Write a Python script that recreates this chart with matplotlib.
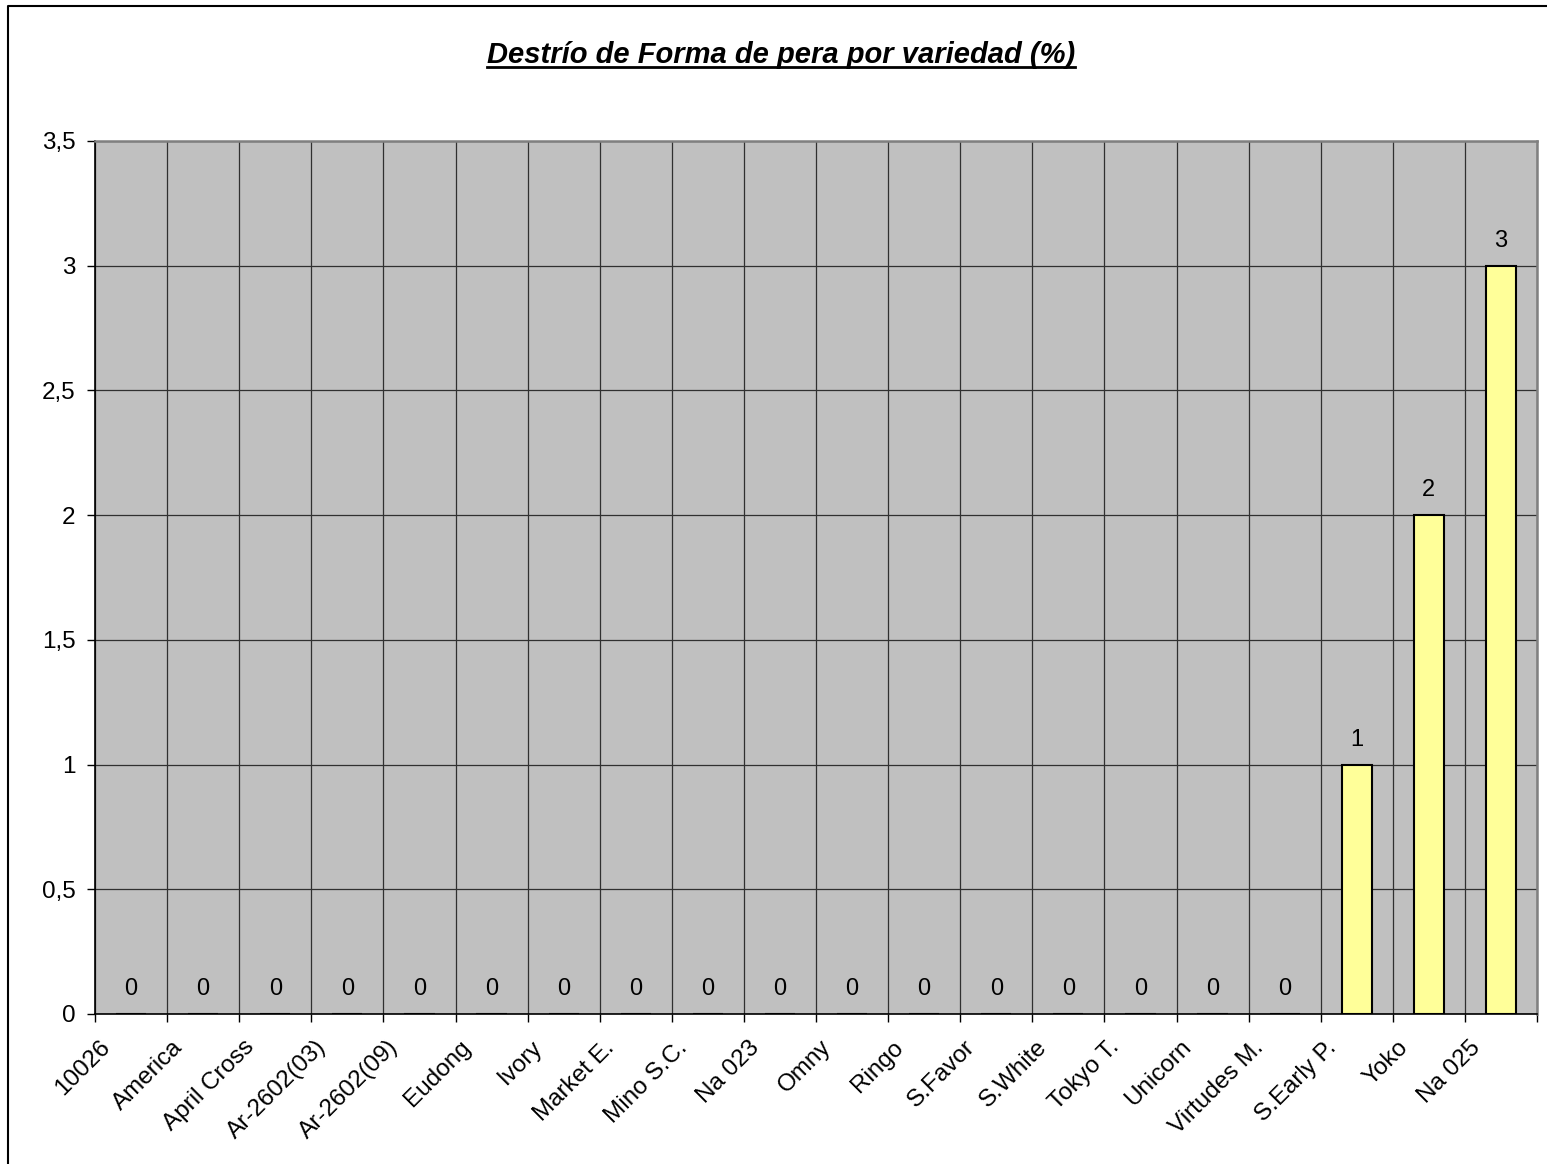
import matplotlib
matplotlib.use("Agg")
import matplotlib.pyplot as plt
import matplotlib.transforms as mtransforms
from matplotlib.lines import Line2D
import numpy as np

# data
variedades = ["10026", "America", "April Cross", "Ar-2602(03)", "Ar-2602(09)",
              "Eudong", "Ivory", "Market E.", "Mino S.C.", "Na 023", "Omny",
              "Ringo", "S.Favor", "S.White", "Tokyo T.", "Unicorn",
              "Virtudes M.", "S.Early P.", "Yoko", "Na 025"]
destrio = [0, 0, 0, 0, 0, 0, 0, 0, 0, 0, 0, 0, 0, 0, 0, 0, 0, 1, 2, 3]
y_ticks = [0, 0.5, 1, 1.5, 2, 2.5, 3, 3.5]
y_ticklabels = ["0", "0,5", "1", "1,5", "2", "2,5", "3", "3,5"]
titulo = "Destrío de Forma de pera por variedad (%)"

plt.rcParams["font.family"] = ["Liberation Sans", "DejaVu Sans"]

W, H = 1547, 1164
fig = plt.figure(figsize=(W / 100, H / 100), dpi=100)
ax = fig.add_axes((95 / W, 1 - 1014 / H, 1442 / W, 873 / H))
ax.set_facecolor("#C0C0C0")

x = np.arange(len(variedades))
ax.bar(x, destrio, width=0.42, color="#FFFF99", edgecolor="black",
       linewidth=1.5, zorder=3)

# value labels above the bars
for xi, v in zip(x, destrio):
    ax.annotate(str(v), (xi, v), xytext=(0, 10), textcoords="offset points",
                ha="center", va="bottom", fontsize=17, zorder=4)

ax.set_xlim(-0.5, len(variedades) - 0.5)
ax.set_ylim(0, 3.5)

# ticks at category boundaries, labels at centres
ax.set_xticks(np.arange(len(variedades) + 1) - 0.5)
ax.set_xticklabels([])
ax.set_xticks(x, minor=True)
ax.set_xticklabels(variedades, minor=True, rotation=45, ha="right",
                   va="top", rotation_mode="anchor", fontsize=17.5)
ax.tick_params(axis="x", which="major", direction="out", length=6,
               width=1, color="black")
ax.tick_params(axis="x", which="minor", length=0, pad=16)
shift = mtransforms.ScaledTranslation(-32 / 100, 0, fig.dpi_scale_trans)
for lbl in ax.get_xticklabels(minor=True):
    lbl.set_transform(lbl.get_transform() + shift)

ax.set_yticks(y_ticks)
ax.set_yticklabels(y_ticklabels, fontsize=17.5)
ax.tick_params(axis="y", direction="out", length=6, width=1, pad=8,
               color="black")

ax.grid(True, which="major", axis="both", color="#303030", linewidth=0.9,
        zorder=1)
ax.set_axisbelow(True)

for side in ("left", "bottom"):
    ax.spines[side].set_color("black")
    ax.spines[side].set_linewidth(1.2)
for side in ("top", "right"):
    ax.spines[side].set_color("#808080")
    ax.spines[side].set_linewidth(1.8)

# title with underline
t = fig.text(781 / W, 1 - 63 / H, titulo, ha="center", va="baseline",
             fontsize=21, fontweight="bold", fontstyle="italic")
fig.canvas.draw()
bb = t.get_window_extent(renderer=fig.canvas.get_renderer())
y_ul = 1 - 67 / H
fig.add_artist(Line2D([bb.x0 / W, bb.x1 / W], [y_ul, y_ul],
                      transform=fig.transFigure, color="black", linewidth=2))

# chart area border (left and top edges visible)
fig.add_artist(Line2D([8 / W, 8 / W, 1], [0, 1 - 6 / H, 1 - 6 / H],
                      transform=fig.transFigure, color="black", linewidth=1.5))

fig.savefig("out.png", dpi=100)
